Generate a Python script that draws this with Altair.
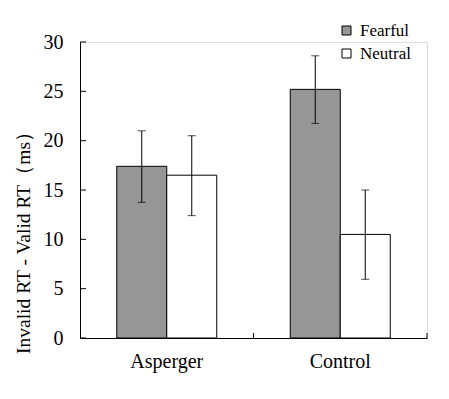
import altair as alt
import pandas as pd

groups = ["Asperger", "Asperger", "Control", "Control"]
conditions = ["Fearful", "Neutral", "Fearful", "Neutral"]
means = [17.4, 16.5, 25.2, 10.5]
err_low = [13.75, 12.4, 21.75, 5.95]
err_high = [21.0, 20.5, 28.6, 15.0]
y_ticks = [0, 5, 10, 15, 20, 25, 30]
group_names = ["Asperger", "Control"]
y_title = ["Invalid RT - Valid RT（ms）"]

df = pd.DataFrame({"group": groups, "cond": conditions, "mean": means,
                   "lo": err_low, "hi": err_high})
ticks_df = pd.DataFrame({"t": y_ticks})
grp_df = pd.DataFrame({"group": group_names})
title_df = pd.DataFrame({"title": y_title})

FONT = "Liberation Serif"
W, H = 347, 296

xscale = alt.Scale(domain=group_names, paddingInner=0, paddingOuter=0)
yscale = alt.Scale(domain=[0, 30], nice=False)
xoff_scale = alt.Scale(domain=["Fearful", "Neutral"], paddingOuter=0.735, paddingInner=0)

x_enc = alt.X("group:N", scale=xscale, sort=group_names,
              axis=alt.Axis(title=None, labelAngle=0, labelFont=FONT, labelFontSize=20,
                            labelColor="black", labelPadding=13, ticks=False,
                            domainColor="black", domainWidth=1))

bars = alt.Chart(df).mark_bar(stroke="black", strokeWidth=1).encode(
    x=x_enc,
    xOffset=alt.XOffset("cond:N", scale=xoff_scale),
    y=alt.Y("mean:Q", scale=yscale,
            axis=alt.Axis(title=None, values=y_ticks,
                          grid=False, ticks=False, labelFont=FONT, labelFontSize=20,
                          labelColor="black", labelPadding=17, domainColor="black")),
    fill=alt.Fill("cond:N", scale=alt.Scale(domain=["Fearful", "Neutral"],
                                            range=["#969696", "#ffffff"]),
                  legend=alt.Legend(title=None, orient="none", legendX=258, legendY=-20,
                                    symbolType="square", symbolSize=81,
                                    symbolStrokeColor="black", symbolStrokeWidth=1,
                                    labelFont=FONT, labelFontSize=17, labelColor="black",
                                    rowPadding=5, labelOffset=5)),
)

rules = alt.Chart(df).mark_rule(color="black", strokeWidth=1).encode(
    x=alt.X("group:N", scale=xscale, sort=group_names),
    xOffset=alt.XOffset("cond:N", scale=xoff_scale),
    y=alt.Y("lo:Q", scale=yscale),
    y2="hi:Q",
)
caps_hi = alt.Chart(df).mark_tick(color="black", orient="horizontal", size=8, thickness=1).encode(
    x=alt.X("group:N", scale=xscale, sort=group_names),
    xOffset=alt.XOffset("cond:N", scale=xoff_scale),
    y=alt.Y("hi:Q", scale=yscale),
)
caps_lo = alt.Chart(df).mark_tick(color="black", orient="horizontal", size=8, thickness=1).encode(
    x=alt.X("group:N", scale=xscale, sort=group_names),
    xOffset=alt.XOffset("cond:N", scale=xoff_scale),
    y=alt.Y("lo:Q", scale=yscale),
)

yt = alt.Chart(ticks_df).mark_rule(color="black", strokeWidth=1).encode(
    y=alt.Y("t:Q", scale=yscale),
    x=alt.value(0), x2=alt.value(6),
)
xt = alt.Chart(grp_df).mark_rule(color="black", strokeWidth=1).encode(
    x=alt.X("group:N", scale=xscale, sort=group_names, bandPosition=1),
    y=alt.value(H), y2=alt.value(H - 5),
)

ytitle = alt.Chart(title_df).mark_text(
    angle=270, font=FONT, fontSize=19.5, color="black", align="center", baseline="middle"
).encode(text="title:N", x=alt.value(-56), y=alt.value(196))

chart = alt.layer(bars, rules, caps_hi, caps_lo, yt, xt, ytitle).properties(
    width=W, height=H,
    autosize=alt.AutoSizeParams(type="none"),
    padding={"left": 72, "top": 34, "right": 14, "bottom": 50},
).configure_view(stroke=None).configure(background="white")

chart.save("out.html", embed_options={"renderer": "svg", "actions": False})
